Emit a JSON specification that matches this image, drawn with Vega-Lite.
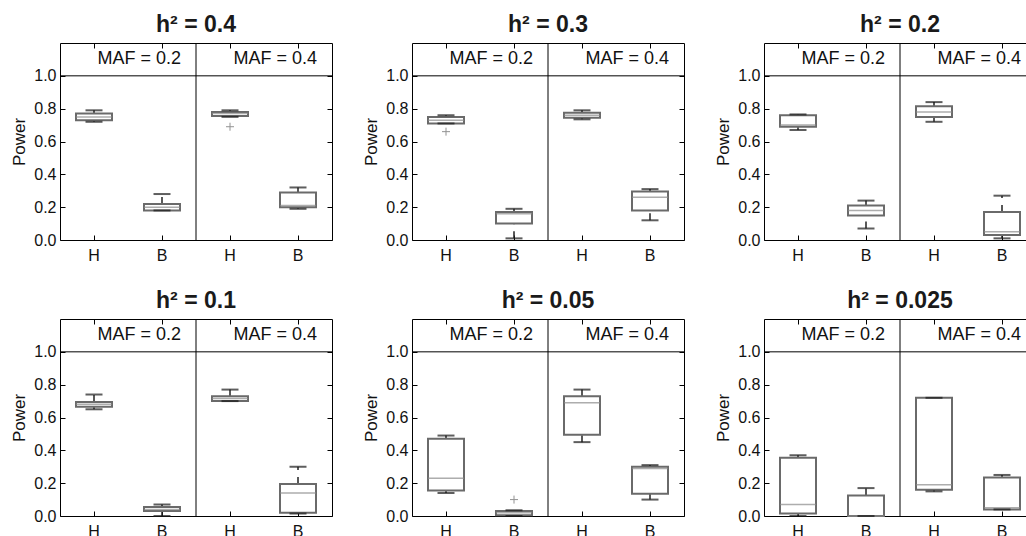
{
  "$schema": "https://vega.github.io/schema/vega-lite/v6.json",
  "background": "white",
  "padding": {"left": 10, "top": 13, "right": 0, "bottom": 0},
  "config": {
    "font": "Liberation Sans",
    "view": {"stroke": "#000", "strokeWidth": 1},
    "axis": {"grid": false, "domain": false, "tickColor": "#000", "tickSize": -5, "labelFont": "Liberation Sans", "labelFontSize": 16, "labelColor": "#111", "titleFont": "Liberation Sans", "titleFontSize": 17, "titleFontWeight": "normal", "titleColor": "#111"}
  },
  "data": {"values": [
    {"h": "h² = 0.4", "maf": "MAF = 0.2", "grp": "H", "key": "MAF = 0.2|H", "lw": 0.72, "q1": 0.73, "med": 0.75, "q3": 0.77, "uw": 0.79, "out": null},
    {"h": "h² = 0.4", "maf": "MAF = 0.2", "grp": "B", "key": "MAF = 0.2|B", "lw": 0.18, "q1": 0.18, "med": 0.20, "q3": 0.22, "uw": 0.28, "out": null},
    {"h": "h² = 0.4", "maf": "MAF = 0.4", "grp": "H", "key": "MAF = 0.4|H", "lw": 0.75, "q1": 0.755, "med": 0.77, "q3": 0.78, "uw": 0.79, "out": 0.69},
    {"h": "h² = 0.4", "maf": "MAF = 0.4", "grp": "B", "key": "MAF = 0.4|B", "lw": 0.19, "q1": 0.20, "med": 0.21, "q3": 0.29, "uw": 0.32, "out": null},
    {"h": "h² = 0.3", "maf": "MAF = 0.2", "grp": "H", "key": "MAF = 0.2|H", "lw": 0.71, "q1": 0.71, "med": 0.73, "q3": 0.75, "uw": 0.76, "out": 0.66},
    {"h": "h² = 0.3", "maf": "MAF = 0.2", "grp": "B", "key": "MAF = 0.2|B", "lw": 0.01, "q1": 0.10, "med": 0.16, "q3": 0.17, "uw": 0.19, "out": null},
    {"h": "h² = 0.3", "maf": "MAF = 0.4", "grp": "H", "key": "MAF = 0.4|H", "lw": 0.735, "q1": 0.745, "med": 0.76, "q3": 0.775, "uw": 0.79, "out": null},
    {"h": "h² = 0.3", "maf": "MAF = 0.4", "grp": "B", "key": "MAF = 0.4|B", "lw": 0.12, "q1": 0.18, "med": 0.26, "q3": 0.295, "uw": 0.31, "out": null},
    {"h": "h² = 0.2", "maf": "MAF = 0.2", "grp": "H", "key": "MAF = 0.2|H", "lw": 0.67, "q1": 0.69, "med": 0.70, "q3": 0.76, "uw": 0.765, "out": null},
    {"h": "h² = 0.2", "maf": "MAF = 0.2", "grp": "B", "key": "MAF = 0.2|B", "lw": 0.07, "q1": 0.15, "med": 0.18, "q3": 0.21, "uw": 0.24, "out": null},
    {"h": "h² = 0.2", "maf": "MAF = 0.4", "grp": "H", "key": "MAF = 0.4|H", "lw": 0.72, "q1": 0.75, "med": 0.78, "q3": 0.815, "uw": 0.84, "out": null},
    {"h": "h² = 0.2", "maf": "MAF = 0.4", "grp": "B", "key": "MAF = 0.4|B", "lw": 0.01, "q1": 0.03, "med": 0.05, "q3": 0.17, "uw": 0.27, "out": null},
    {"h": "h² = 0.1", "maf": "MAF = 0.2", "grp": "H", "key": "MAF = 0.2|H", "lw": 0.65, "q1": 0.665, "med": 0.68, "q3": 0.695, "uw": 0.74, "out": null},
    {"h": "h² = 0.1", "maf": "MAF = 0.2", "grp": "B", "key": "MAF = 0.2|B", "lw": 0.0, "q1": 0.03, "med": 0.04, "q3": 0.055, "uw": 0.07, "out": null},
    {"h": "h² = 0.1", "maf": "MAF = 0.4", "grp": "H", "key": "MAF = 0.4|H", "lw": 0.70, "q1": 0.70, "med": 0.715, "q3": 0.73, "uw": 0.77, "out": null},
    {"h": "h² = 0.1", "maf": "MAF = 0.4", "grp": "B", "key": "MAF = 0.4|B", "lw": 0.015, "q1": 0.02, "med": 0.14, "q3": 0.195, "uw": 0.30, "out": null},
    {"h": "h² = 0.05", "maf": "MAF = 0.2", "grp": "H", "key": "MAF = 0.2|H", "lw": 0.14, "q1": 0.155, "med": 0.23, "q3": 0.47, "uw": 0.49, "out": null},
    {"h": "h² = 0.05", "maf": "MAF = 0.2", "grp": "B", "key": "MAF = 0.2|B", "lw": 0.0, "q1": 0.005, "med": 0.02, "q3": 0.03, "uw": 0.035, "out": 0.10},
    {"h": "h² = 0.05", "maf": "MAF = 0.4", "grp": "H", "key": "MAF = 0.4|H", "lw": 0.45, "q1": 0.495, "med": 0.69, "q3": 0.73, "uw": 0.77, "out": null},
    {"h": "h² = 0.05", "maf": "MAF = 0.4", "grp": "B", "key": "MAF = 0.4|B", "lw": 0.10, "q1": 0.135, "med": 0.29, "q3": 0.30, "uw": 0.31, "out": null},
    {"h": "h² = 0.025", "maf": "MAF = 0.2", "grp": "H", "key": "MAF = 0.2|H", "lw": 0.0, "q1": 0.015, "med": 0.07, "q3": 0.355, "uw": 0.37, "out": null},
    {"h": "h² = 0.025", "maf": "MAF = 0.2", "grp": "B", "key": "MAF = 0.2|B", "lw": 0.0, "q1": 0.0, "med": 0.0, "q3": 0.125, "uw": 0.17, "out": null},
    {"h": "h² = 0.025", "maf": "MAF = 0.4", "grp": "H", "key": "MAF = 0.4|H", "lw": 0.15, "q1": 0.16, "med": 0.19, "q3": 0.72, "uw": 0.72, "out": null},
    {"h": "h² = 0.025", "maf": "MAF = 0.4", "grp": "B", "key": "MAF = 0.4|B", "lw": 0.04, "q1": 0.04, "med": 0.05, "q3": 0.235, "uw": 0.25, "out": null}
  ]},
  "facet": {
    "field": "h", "type": "nominal",
    "sort": ["h² = 0.4", "h² = 0.3", "h² = 0.2", "h² = 0.1", "h² = 0.05", "h² = 0.025"],
    "header": {"title": null, "labelFont": "Liberation Sans", "labelFontSize": 23, "labelFontWeight": "bold", "labelColor": "#1a1a1a", "labelPadding": 6}
  },
  "columns": 3,
  "spacing": {"column": 29, "row": 25},
  "resolve": {"axis": {"x": "independent", "y": "independent"}},
  "spec": {
    "width": 272,
    "height": 197,
    "resolve": {"axis": {"x": "independent", "y": "independent"}},
    "layer": [
      {
        "transform": [{"filter": "datum.key == 'MAF = 0.2|H'"}],
        "mark": {"type": "rule", "color": "#000", "strokeWidth": 1},
        "encoding": {"y": {"datum": 1, "type": "quantitative", "scale": {"domain": [0, 1.2], "nice": false}, "axis": null}}
      },
      {
        "transform": [{"filter": "datum.key == 'MAF = 0.4|H'"}],
        "mark": {"type": "rule", "color": "#000", "strokeWidth": 1},
        "encoding": {"x": {"field": "key", "type": "nominal", "bandPosition": 0, "scale": {"type": "band", "domain": ["MAF = 0.2|H", "MAF = 0.2|B", "MAF = 0.4|H", "MAF = 0.4|B"], "paddingInner": 0, "paddingOuter": 0}, "axis": null}}
      },
      {
        "transform": [{"filter": "datum.grp == 'B'"}],
        "mark": {"type": "text", "align": "right", "baseline": "middle", "fontSize": 18, "color": "#111", "font": "Liberation Sans"},
        "encoding": {
          "x": {"field": "key", "type": "nominal", "bandPosition": 0.78, "axis": null},
          "y": {"datum": 1.1, "type": "quantitative", "axis": null},
          "text": {"field": "maf"}
        }
      },
      {
        "mark": {"type": "rule", "color": "#222", "strokeWidth": 1.5, "strokeDash": [7, 7]},
        "encoding": {
          "x": {"field": "key", "type": "nominal", "axis": null},
          "y": {"field": "lw", "type": "quantitative", "axis": null},
          "y2": {"field": "q1"}
        }
      },
      {
        "mark": {"type": "rule", "color": "#222", "strokeWidth": 1.5, "strokeDash": [7, 7]},
        "encoding": {
          "x": {"field": "key", "type": "nominal", "axis": null},
          "y": {"field": "q3", "type": "quantitative", "axis": null},
          "y2": {"field": "uw"}
        }
      },
      {
        "mark": {"type": "bar", "size": 36, "fill": "white", "stroke": "#6a6a6a", "strokeWidth": 2},
        "encoding": {
          "x": {"field": "key", "type": "nominal", "axis": {"orient": "bottom", "title": null, "labelExpr": "slice(datum.label, -1)", "labelPadding": 12, "labelAngle": 0}},
          "y": {"field": "q1", "type": "quantitative", "axis": {"orient": "left", "title": "Power", "values": [0, 0.2, 0.4, 0.6, 0.8, 1.0], "format": ".1f", "labelPadding": 9, "titlePadding": 5}},
          "y2": {"field": "q3"}
        }
      },
      {
        "mark": {"type": "tick", "size": 36, "thickness": 1.5, "color": "#8a8a8a"},
        "encoding": {
          "x": {"field": "key", "type": "nominal", "axis": null},
          "y": {"field": "med", "type": "quantitative", "axis": null}
        }
      },
      {
        "mark": {"type": "tick", "size": 17, "thickness": 2, "color": "#1a1a1a"},
        "encoding": {
          "x": {"field": "key", "type": "nominal", "axis": null},
          "y": {"field": "lw", "type": "quantitative", "axis": null}
        }
      },
      {
        "mark": {"type": "tick", "size": 17, "thickness": 2, "color": "#1a1a1a"},
        "encoding": {
          "x": {"field": "key", "type": "nominal", "axis": null},
          "y": {"field": "uw", "type": "quantitative", "axis": null}
        }
      },
      {
        "mark": {"type": "point", "shape": "M-1,0L1,0M0,-1L0,1", "size": 64, "filled": false, "stroke": "#666", "strokeWidth": 1},
        "encoding": {
          "x": {"field": "key", "type": "nominal", "axis": null},
          "y": {"field": "out", "type": "quantitative", "axis": null}
        }
      },
      {
        "mark": {"type": "point", "opacity": 0},
        "encoding": {
          "x": {"field": "key", "type": "nominal", "axis": {"orient": "top", "title": null, "labels": false}},
          "y": {"field": "med", "type": "quantitative", "axis": {"orient": "right", "title": null, "labels": false, "values": [0, 0.2, 0.4, 0.6, 0.8, 1.0]}}
        }
      }
    ]
  }
}
